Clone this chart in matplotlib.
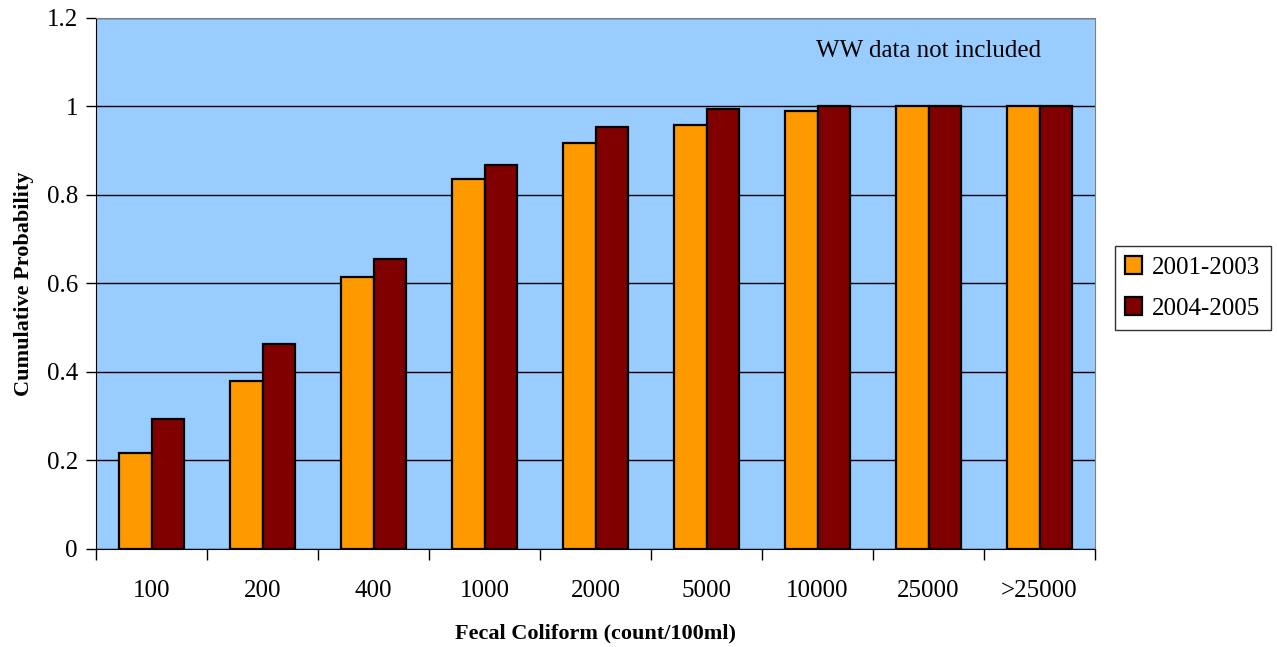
import numpy as np
import matplotlib.pyplot as plt

plt.rcParams['font.family'] = ['Liberation Serif', 'DejaVu Serif']

categories = ['100', '200', '400', '1000', '2000', '5000', '10000', '25000', '>25000']
p_2001_2003 = [0.217, 0.380, 0.615, 0.836, 0.917, 0.959, 0.990, 1.0, 1.0]
p_2004_2005 = [0.294, 0.463, 0.655, 0.868, 0.954, 0.994, 1.0, 1.0, 1.0]

fig = plt.figure(figsize=(12.77, 6.47), dpi=100)
ax = fig.add_axes([0.0752, 0.1515, 0.7823, 0.8207])
ax.set_facecolor('#99ccff')

x = np.arange(len(categories))
w = 0.29
ax.bar(x - w/2, p_2001_2003, w, color='#ff9900', edgecolor='black', linewidth=1.6, label='2001-2003', zorder=3)
ax.bar(x + w/2, p_2004_2005, w, color='#800000', edgecolor='black', linewidth=1.6, label='2004-2005', zorder=3)

ax.set_xlim(-0.5, len(categories) - 0.5)
ax.set_ylim(0, 1.2)
ax.set_yticks(np.arange(0, 1.21, 0.2))
ax.set_yticklabels(['0', '0.2', '0.4', '0.6', '0.8', '1', '1.2'], fontsize=18)
ax.yaxis.grid(True, color='black', linewidth=1, zorder=1)

ax.set_xticks(x)
ax.set_xticklabels(categories, fontsize=18)
ax.tick_params(axis='x', length=0, pad=22)
ax.set_xticks(np.arange(-0.5, len(categories), 1), minor=True)
ax.tick_params(axis='x', which='minor', length=8, direction='out', width=1)
ax.tick_params(axis='y', length=7, direction='out', width=1, pad=6)

for s in ['top', 'right']:
    ax.spines[s].set_color('#808080')
ax.spines['left'].set_color('black')
ax.spines['bottom'].set_color('black')

ax.set_xlabel('Fecal Coliform (count/100ml)', fontsize=16, fontweight='bold', labelpad=16)
ax.set_ylabel('Cumulative Probability', fontsize=16, fontweight='bold', labelpad=9)

ax.text(7.0, 1.126, 'WW data not included', fontsize=18, ha='center', va='center')

leg = fig.legend(loc='center left', bbox_to_anchor=(0.873, 0.555), fontsize=18,
                 frameon=True, fancybox=False, edgecolor='black', handlelength=0.7,
                 handleheight=0.7, labelspacing=0.75, borderpad=0.4, handletextpad=0.4,
                 borderaxespad=0)
leg.get_frame().set_linewidth(1)

fig.savefig('out.png', dpi=100)
